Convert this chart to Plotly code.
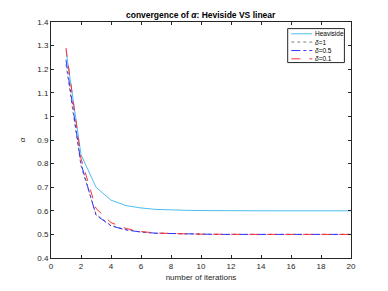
import plotly.graph_objects as go

iterations = list(range(1, 21))
heaviside = [1.28, 0.838, 0.700, 0.645, 0.622, 0.612, 0.606, 0.603, 0.602, 0.601,
             0.600, 0.600, 0.600, 0.600, 0.600, 0.600, 0.600, 0.600, 0.600, 0.600]
delta_1 = [1.22, 0.790, 0.585, 0.538, 0.520, 0.510, 0.505, 0.503, 0.502, 0.501,
           0.500, 0.500, 0.500, 0.500, 0.500, 0.500, 0.500, 0.500, 0.500, 0.500]
delta_05 = [1.24, 0.800, 0.582, 0.536, 0.519, 0.510, 0.505, 0.503, 0.502, 0.501,
            0.500, 0.500, 0.500, 0.500, 0.500, 0.500, 0.500, 0.500, 0.500, 0.500]
delta_01 = [1.29, 0.822, 0.610, 0.550, 0.525, 0.512, 0.506, 0.503, 0.502, 0.501,
            0.500, 0.500, 0.500, 0.500, 0.500, 0.500, 0.500, 0.500, 0.500, 0.500]

series = [
    ("Heaviside", heaviside, "#4DBEEE", "solid"),
    ("<i>δ</i>=1", delta_1, "#808080", "dot"),
    ("<i>δ</i>=0.5", delta_05, "#3333FF", "dashdot"),
    ("<i>δ</i>=0.1", delta_01, "#FF3333", "dash"),
]

FONT = "Liberation Sans, Arial, sans-serif"
fig = go.Figure()
for name, vals, col, dash in series:
    fig.add_trace(go.Scatter(x=iterations, y=vals, mode="lines", name=name,
                             line=dict(color=col, width=1, dash=dash), showlegend=False))

# manual legend (MATLAB-like compact box)
leg_x0, leg_x1, leg_y0, leg_y1 = 0.789, 0.978, 0.828, 0.972
entry_y = [0.950, 0.915, 0.879, 0.844]
fig.add_shape(type="rect", xref="paper", yref="paper", x0=leg_x0, x1=leg_x1,
              y0=leg_y0, y1=leg_y1, line=dict(color="#262626", width=1), fillcolor="white")
for (name, vals, col, dash), ey in zip(series, entry_y):
    fig.add_shape(type="line", xref="paper", yref="paper", x0=0.801, x1=0.871,
                  y0=ey, y1=ey, line=dict(color=col, width=1, dash=dash))
    fig.add_annotation(xref="paper", yref="paper", x=0.874, y=ey, text=name,
                       showarrow=False, xanchor="left", yanchor="middle",
                       font=dict(family=FONT, size=6.5, color="#000000"))

axis_common = dict(showline=True, linecolor="#262626", linewidth=1, mirror="ticks",
                   ticks="inside", ticklen=3, tickcolor="#262626", showgrid=False,
                   zeroline=False, automargin=False,
                   tickfont=dict(family=FONT, size=8, color="#262626"))

fig.update_layout(
    width=380, height=283,
    margin=dict(l=42.5, r=37, t=14, b=33),
    paper_bgcolor="white", plot_bgcolor="white",
    title=dict(text="<b>convergence of <i>α</i>: Heviside VS linear</b>",
               x=0.507, xanchor="center", y=0.975, yanchor="middle",
               font=dict(family=FONT, size=8.5, color="#000000")),
    xaxis=dict(range=[0, 20], tickvals=list(range(0, 21, 2)),
               title=dict(text="number of iterations", standoff=4,
                          font=dict(family=FONT, size=8, color="#262626")),
               **axis_common),
    yaxis=dict(range=[0.4, 1.4], tickvals=[0.4, 0.5, 0.6, 0.7, 0.8, 0.9, 1.0, 1.1, 1.2, 1.3, 1.4],
               ticktext=["0.4", "0.5", "0.6", "0.7", "0.8", "0.9", "1", "1.1", "1.2", "1.3", "1.4"],
               title=dict(text="<i>α</i>", standoff=10,
                          font=dict(family=FONT, size=8, color="#262626")),
               **axis_common),
    showlegend=False,
)

fig.write_html("out.html")
